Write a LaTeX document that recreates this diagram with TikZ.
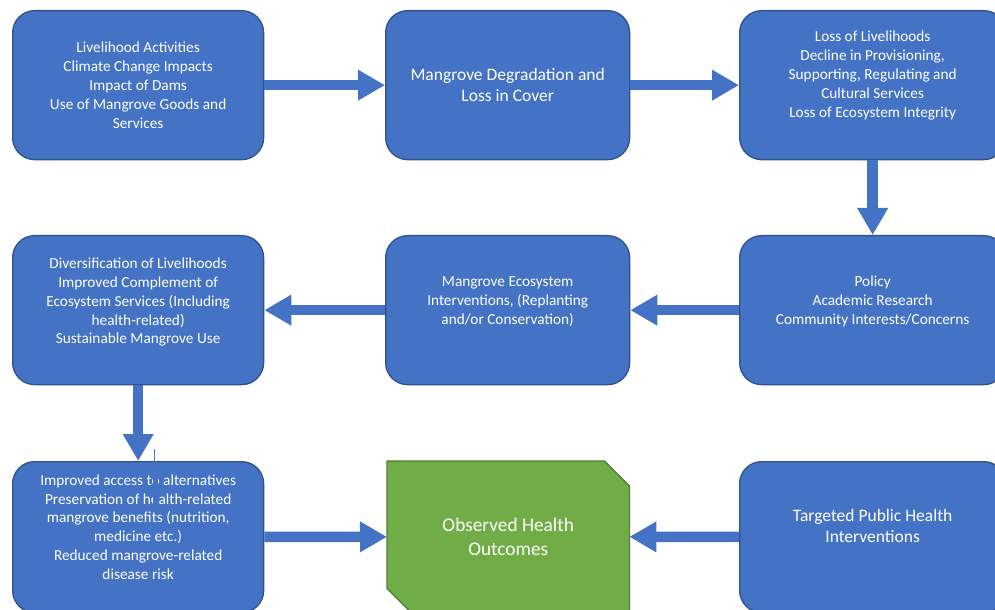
\documentclass[tikz,border=0pt]{standalone}
\usepackage{fontspec}
\setmainfont{Carlito}
\usetikzlibrary{arrows.meta,calc}
\definecolor{boxblue}{HTML}{4472C4}
\definecolor{boxedge}{HTML}{2F528F}
\definecolor{boxgreen}{HTML}{70AD47}
\definecolor{greenedge}{HTML}{507E32}
\begin{document}
\begin{tikzpicture}[x=1bp,y=-1bp,
  flowbox/.style={draw=boxedge, line width=1.3bp, fill=boxblue,
    rounded corners=22bp, anchor=north west, inner sep=0pt},
  holder/.style={anchor=north west, inner sep=0pt},
  smalltext/.style={text=white, align=center, inner sep=0pt,
    font=\fontsize{15.3bp}{18.9bp}\selectfont},
  bigtext/.style={text=white, align=center, inner sep=0pt,
    font=\fontsize{17.5bp}{21.5bp}\selectfont},
  outcometext/.style={text=white, align=center, inner sep=0pt,
    font=\fontsize{19.3bp}{24bp}\selectfont},
  flow/.style={draw=boxblue, line width=10.5bp,
    -{Triangle[length=27bp,width=29bp]}}]
\useasboundingbox (0,0) rectangle (995,610);
\clip (0,0) rectangle (995,610);

% top row
\node[flowbox, minimum width=251bp, minimum height=149bp] (b1) at (12,10) {};
\node[flowbox, minimum width=244bp, minimum height=149bp] (b2) at (385,10) {};
\node[flowbox, minimum width=266bp, minimum height=149bp] (b3) at (739,10) {};
% middle row
\node[flowbox, minimum width=251bp, minimum height=149bp] (b4) at (12,235) {};
\node[flowbox, minimum width=244bp, minimum height=149bp] (b5) at (385,235) {};
\node[flowbox, minimum width=266bp, minimum height=149bp] (b6) at (739,235) {};
% bottom row
\node[flowbox, minimum width=251bp, minimum height=151bp] (b7) at (12,461) {};
\node[holder, minimum width=242bp, minimum height=151bp] (g) at (387,461) {};
\filldraw[fill=boxgreen, draw=greenedge, line width=1.3bp]
  (g.north west) -- ($(g.north east)+(-25,0)$) -- ($(g.north east)+(0,25)$)
  -- (g.south east) -- ($(g.south west)+(24,0)$) -- ($(g.south west)+(0,-24)$)
  -- cycle;
\node[flowbox, minimum width=266bp, minimum height=151bp] (b9) at (739,461) {};

% labels
\node[smalltext] (t1) at (b1.center) {Livelihood Activities\\Climate Change Impacts\\Impact of Dams\\Use of Mangrove Goods and\\Services};
\node[bigtext] (t2) at (b2.center) {Mangrove Degradation and\\Loss in Cover};
\node[smalltext] (t3) at ($(b3.center)+(0,-9.5)$) {Loss of Livelihoods\\Decline in Provisioning,\\Supporting, Regulating and\\Cultural Services\\Loss of Ecosystem Integrity};
\node[smalltext] (t4) at ($(b4.center)+(0,-8)$) {Diversification of Livelihoods\\Improved Complement of\\Ecosystem Services (Including\\health-related)\\Sustainable Mangrove Use};
\node[smalltext] (t5) at ($(b5.center)+(0,-8.5)$) {Mangrove Ecosystem\\Interventions, (Replanting\\and/or Conservation)};
\node[smalltext] (t6) at ($(b6.center)+(0,-8.5)$) {Policy\\Academic Research\\Community Interests/Concerns};
\node[smalltext] (t7) at ($(b7.center)+(0,-10)$) {Improved access to alternatives\\Preservation of health-related\\mangrove benefits (nutrition,\\medicine etc.)\\Reduced mangrove-related\\disease risk};
\node[outcometext] (tg) at (g.center) {Observed Health\\Outcomes};
\node[bigtext] (t9) at ($(b9.center)+(0,-11)$) {Targeted Public Health\\Interventions};

% stray strip over the bottom-left box
\fill[boxblue] (152.5,462) rectangle (157.5,506);
\draw[boxblue, line width=1bp] (154.7,449) -- (154.7,462);

% connectors
\draw[flow] (b1) -- (b2);
\draw[flow] (b2) -- (b3);
\draw[flow] (b3) -- (b6);
\draw[flow] (b6) -- (b5);
\draw[flow] (b5) -- (b4);
\draw[flow] (b4) -- (b7);
\draw[flow] (b7) -- (g);
\draw[flow] (b9) -- (g);
\end{tikzpicture}
\end{document}
